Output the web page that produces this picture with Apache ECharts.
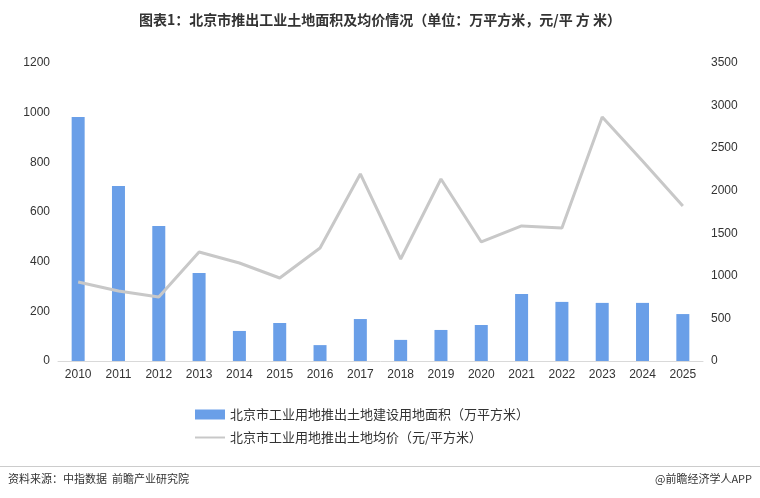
<!DOCTYPE html><html><head><meta charset="utf-8">
<script src="https://cdn.jsdelivr.net/npm/echarts@6/dist/echarts.min.js"></script>
<style>body{margin:0;background:#fff}#c{width:760px;height:498px}</style></head><body><div id="c"></div>
<script>
const years=['2010','2011','2012','2013','2014','2015','2016','2017','2018','2019','2020','2021','2022','2023','2024','2025'];
const area=[983,705,544,354,121,153,64,169,85,125,145,270,238,234,234,189];
const price=[928,822,752,1280,1151,975,1327,2197,1198,2138,1398,1586,1563,2867,2350,1821];
const f='"Noto Sans CJK SC", sans-serif';
const c=echarts.init(document.getElementById('c'));
c.setOption({
 title:{text:'图表1：北京市推出工业土地面积及均价情况（单位：万平方米，元/平 方 米）',left:'center',top:8,textStyle:{fontSize:14,fontWeight:'bold',color:'#333',fontFamily:f}},
 grid:{left:58,right:57,top:63,bottom:137},
 legend:{orient:'vertical',left:190,top:403,itemGap:10,itemWidth:30,itemHeight:10,textStyle:{fontSize:13,color:'#333',fontFamily:f},
  data:[{name:'北京市工业用地推出土地建设用地面积（万平方米）',icon:'rect'},{name:'北京市工业用地推出土地均价（元/平方米）',icon:'path://M0,4h30v2h-30z'}]},
 xAxis:{type:'category',data:years,axisTick:{show:false},axisLine:{lineStyle:{color:'#d9d9d9'}},axisLabel:{color:'#333',fontSize:12}},
 yAxis:[{type:'value',min:0,max:1200,interval:200,splitLine:{show:false},axisLabel:{color:'#333',fontSize:12,formatter:v=>String(v)}},
  {type:'value',min:0,max:3500,interval:500,splitLine:{show:false},axisLabel:{color:'#333',fontSize:12,formatter:v=>String(v)}}],
 series:[{name:'北京市工业用地推出土地建设用地面积（万平方米）',type:'bar',data:area,barWidth:13,itemStyle:{color:'#6a9fe8'}},
  {name:'北京市工业用地推出土地均价（元/平方米）',type:'line',yAxisIndex:1,data:price,symbol:'none',lineStyle:{color:'#c8c8c8',width:3},itemStyle:{color:'#c8c8c8'}}],
 graphic:[{type:'rect',left:0,top:466,shape:{width:760,height:1},style:{fill:'#ccc'}},
  {type:'text',left:8,top:473,style:{text:'资料来源：中指数据  前瞻产业研究院',fontSize:11,fill:'#333',fontFamily:f}},
  {type:'text',right:8,top:473,style:{text:'@前瞻经济学人APP',fontSize:11,fill:'#333',fontFamily:f}}]
});
</script></body></html>
